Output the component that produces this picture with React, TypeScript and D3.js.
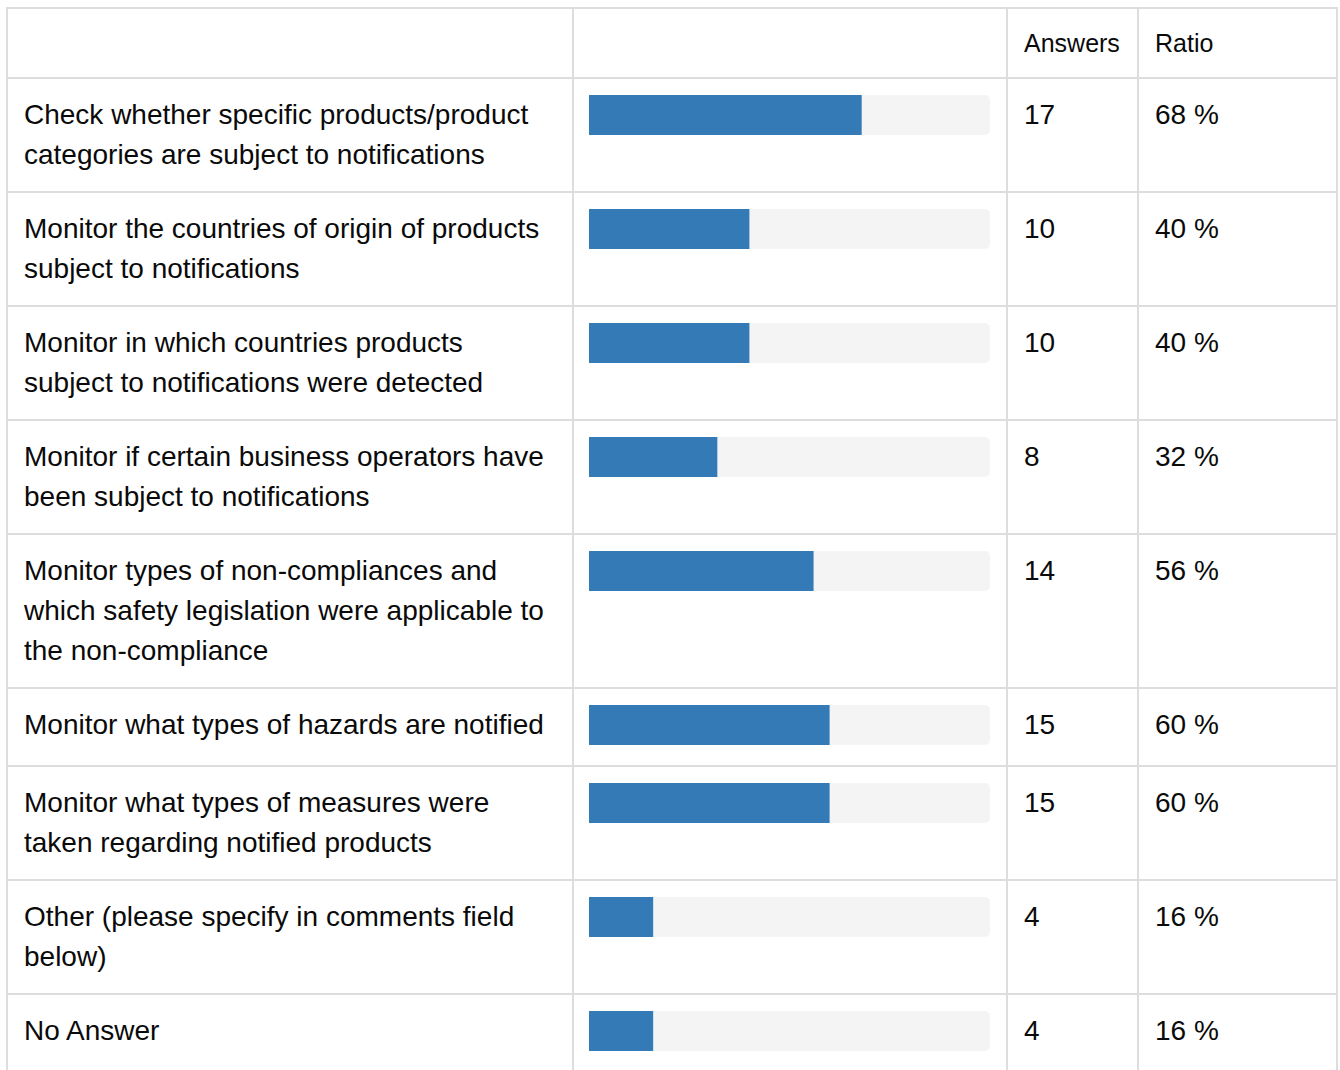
import React from "react";
import * as d3 from "d3";

const categories: string[][] = [
  ["Check whether specific products/product", "categories are subject to notifications"],
  ["Monitor the countries of origin of products", "subject to notifications"],
  ["Monitor in which countries products", "subject to notifications were detected"],
  ["Monitor if certain business operators have", "been subject to notifications"],
  ["Monitor types of non-compliances and", "which safety legislation were applicable to", "the non-compliance"],
  ["Monitor what types of hazards are notified"],
  ["Monitor what types of measures were", "taken regarding notified products"],
  ["Other (please specify in comments field", "below)"],
  ["No Answer"],
];
const answers: number[] = [17, 10, 10, 8, 14, 15, 15, 4, 4];
const ratios: number[] = [68, 40, 40, 32, 56, 60, 60, 16, 16];
const headers: string[] = ["", "", "Answers", "Ratio"];

const W = 1340;
const H = 1070;
const colX = [7, 573, 1007, 1138, 1337];
const tableTop = 8;
const headerH = 70;
const pad = 16;
const lineH = 40;
const border = "#dddddd";
const textColor = "#0a0a0a";
const fontSize = 28;
const headerFontSize = 25;

export default function App() {
  const rowTops: number[] = [];
  let y = tableTop + headerH;
  categories.forEach((lines) => {
    rowTops.push(y);
    const content = Math.max(lines.length * lineH, 44);
    y += content + pad * 2 + 2;
  });
  const boundaries: number[] = [tableTop, ...rowTops];

  const x = d3.scaleLinear().domain([0, 100]).range([589, 990]);
  const barH = 40;

  return (
    <svg
      width={W}
      height={H}
      style={{ position: "absolute", left: 0, top: 0, background: "#fff" }}
      fontFamily="'Liberation Sans', Arial, Helvetica, sans-serif"
      fontSize={fontSize}
    >
      <rect x={0} y={0} width={W} height={H} fill="#fff" />
      {headers.map((h, i) =>
        h ? (
          <text key={"h" + i} x={colX[i] + 17} y={tableTop + 44} fill={textColor} fontSize={headerFontSize}>
            {h}
          </text>
        ) : null
      )}
      {categories.map((lines, i) => {
        const top = rowTops[i];
        const ct = top + pad + 1;
        return (
          <g key={i}>
            {lines.map((l, j) => (
              <text key={j} x={24} y={top + 45.5 + j * lineH} fill={textColor}>
                {l}
              </text>
            ))}
            <path
              d={`M${x(0)},${ct} H${x(100) - 5} A5,5 0 0 1 ${x(100)},${ct + 5} V${ct + barH - 5} A5,5 0 0 1 ${x(100) - 5},${ct + barH} H${x(0)} Z`}
              fill="#f4f4f4"
            />
            <rect x={x(0)} y={ct} width={x(ratios[i]) - x(0)} height={barH} fill="#337ab7" />
            <text x={colX[2] + 17} y={top + 45.5} fill={textColor}>
              {answers[i]}
            </text>
            <text x={colX[3] + 17} y={top + 45.5} fill={textColor}>
              {ratios[i]} %
            </text>
          </g>
        );
      })}
      {boundaries.map((b, i) => (
        <line key={"hl" + i} x1={colX[0] - 1} x2={colX[4] + 1} y1={b} y2={b} stroke={border} strokeWidth={2} />
      ))}
      {colX.map((c, i) => (
        <line key={"vl" + i} x1={c} x2={c} y1={tableTop - 1} y2={H} stroke={border} strokeWidth={2} />
      ))}
    </svg>
  );
}
